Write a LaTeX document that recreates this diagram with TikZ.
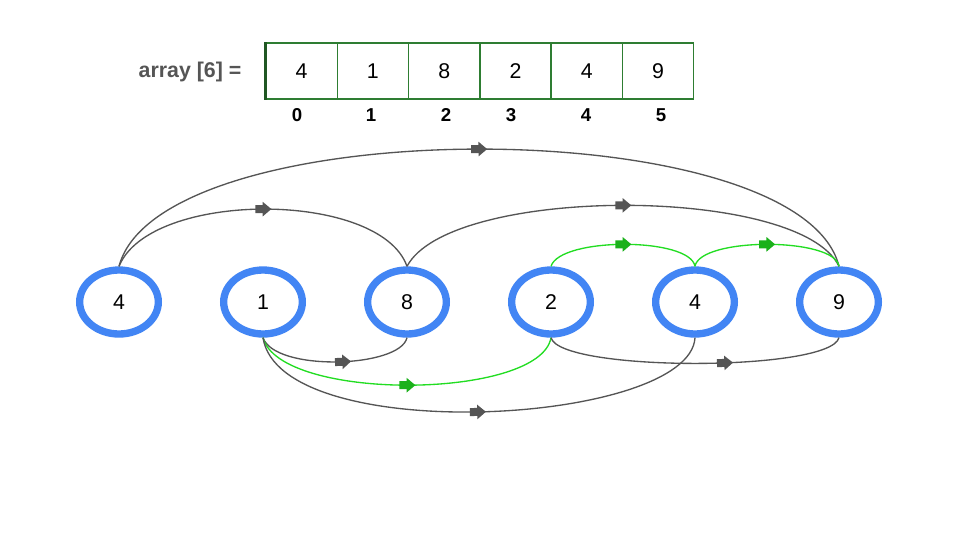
\documentclass[tikz,border=0pt]{standalone}
\usepackage{fontspec}
\setmainfont{Liberation Sans}
\usetikzlibrary{decorations.markings,shapes.geometric}
\definecolor{cellg}{HTML}{2E7D32}
\definecolor{ring}{HTML}{4285F4}
\definecolor{edge}{HTML}{555555}
\definecolor{grn}{HTML}{22DD22}
\tikzset{
 cell/.style={draw=cellg,line width=1pt,minimum width=53.4pt,minimum height=42pt,inner sep=0,font=\fontsize{16}{16}\selectfont},
 idx/.style={font=\bfseries\fontsize{14}{14}\selectfont},
 ringn/.style={draw=ring,line width=5.5pt,ellipse,minimum width=59pt,minimum height=48pt,inner sep=0,font=\fontsize{16}{16}\selectfont},
 mk/.style={postaction={decorate},decoration={markings,mark=at position #1 with {
   \fill[\pgfkeysvalueof{/tikz/mkcol}] (-6pt,-3pt) rectangle (0pt,3pt);
   \fill[\pgfkeysvalueof{/tikz/mkcol}] (-0.5pt,-5.5pt) -- (6pt,0pt) -- (-0.5pt,5.5pt) -- cycle;}}},
 mkcol/.initial=edge,
 ge/.style={draw=edge,line width=1pt,mkcol=edge,mk=#1},
 ge/.default=0.5,
 gg/.style={draw=grn,line width=1pt,mkcol=grn!80!black,mk=#1},
 gg/.default=0.5,
}
\begin{document}
\begin{tikzpicture}[x=0.75pt,y=-0.75pt]
\useasboundingbox (0,0) rectangle (960,540);
\fill[white] (0,0) rectangle (960,540);
\node[font=\bfseries\fontsize{16}{16}\selectfont,text=edge,anchor=east] (lab) at (246,72) {array [6] =};
\foreach \v [count=\i from 0] in {4,1,8,2,4,9}{
  \node[cell] (a\i) at ({301.6+71.3*\i},71) {\v};
}
\draw[line width=2pt,cellg!70!black] (a0.north west) -- (a0.south west);
\foreach \x [count=\i from 0] in {297,371,446,511,586,661}{
  \node[idx] (n\i) at (\x,115) {\i};
}
\foreach \v [count=\i from 0] in {4,1,8,2,4,9}{
  \node[ringn] (c\i) at ({119+144*\i},302) {\v};
}
% top arcs
\draw[ge] (c0.north) .. controls (160,110) and (800,110) .. (c5.north);
\draw[ge] (c0.north) .. controls (150,190) and (380,190) .. (c2.north);
\draw[ge] (c2.north) .. controls (450,185) and (800,185) .. (c5.north);
\draw[gg] (c3.north) .. controls (560,237) and (690,237) .. (c4.north);
\draw[gg] (c4.north) .. controls (700,237) and (835,237) .. (c5.north);
% bottom arcs
\draw[ge=0.55] (c1.south) .. controls (275,372) and (400,368) .. (c2.south);
\draw[gg] (c1.south) .. controls (280,402) and (540,400) .. (c3.south);
\draw[ge] (c1.south) .. controls (280,448) and (690,425) .. (c4.south);
\draw[ge=0.6] (c3.south) .. controls (560,372) and (830,372) .. (c5.south);
\end{tikzpicture}
\end{document}
